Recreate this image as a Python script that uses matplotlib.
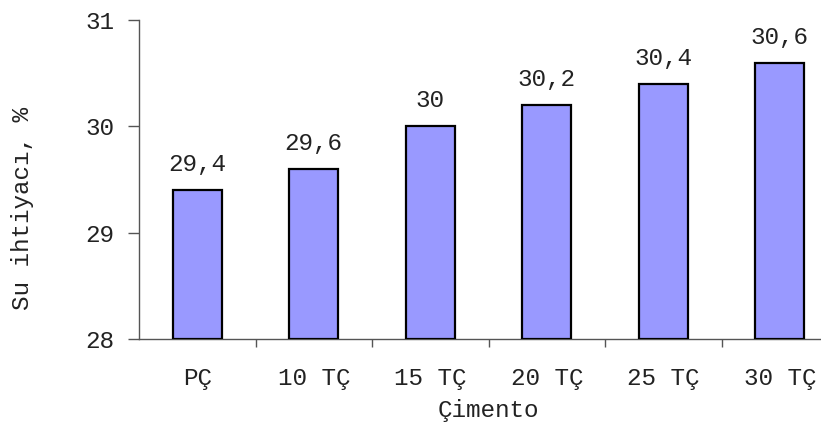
import matplotlib
matplotlib.use("Agg")
import matplotlib.pyplot as plt

# Su ihtiyacı verileri
cimento = ["PÇ", "10 TÇ", "15 TÇ", "20 TÇ", "25 TÇ", "30 TÇ"]
su_ihtiyaci = [29.4, 29.6, 30.0, 30.2, 30.4, 30.6]
etiketler = ["29,4", "29,6", "30", "30,2", "30,4", "30,6"]

plt.rcParams['font.family'] = ['Liberation Mono', 'DejaVu Sans Mono']
yazi_boy = 17.5
yazi_renk = '#222222'
eksen_renk = '#555555'

fig = plt.figure(figsize=(8.21, 4.28), dpi=100)
ax = fig.add_axes([139/821, 89/428, 699/821, 319/428])

x = list(range(len(cimento)))
ax.bar(x, [v - 28 for v in su_ihtiyaci], bottom=28, width=0.42,
       color='#9999FF', edgecolor='black', linewidth=1.6, zorder=3)

for xi, v, t in zip(x, su_ihtiyaci, etiketler):
    ax.annotate(t, (xi, v), xytext=(0, 10), textcoords='offset points',
                ha='center', va='bottom', color=yazi_renk, fontsize=yazi_boy)

ax.set_xlim(-0.5, len(cimento) - 0.5)
ax.set_ylim(28, 31)
ax.set_yticks([28, 29, 30, 31])
ax.set_xticks(x)
ax.set_xticklabels(cimento, color=yazi_renk, fontsize=yazi_boy)
ax.tick_params(axis='x', length=0, pad=20)
ax.set_xticks([i + 0.5 for i in x[:-1]], minor=True)
ax.tick_params(axis='x', which='minor', length=6, width=1, color=eksen_renk, direction='out')
ax.tick_params(axis='y', length=8, width=1, color=eksen_renk, pad=10,
               labelcolor=yazi_renk, labelsize=yazi_boy)

for s in ['top', 'right']:
    ax.spines[s].set_visible(False)
for s in ['left', 'bottom']:
    ax.spines[s].set_color(eksen_renk)
    ax.spines[s].set_linewidth(1)

fig.text(488/821, 1 - 410/428, "Çimento", ha='center', va='center',
         color=yazi_renk, fontsize=yazi_boy)
fig.text(22/821, 1 - 209/428, "Su ihtiyacı, %", ha='center', va='center', rotation=90,
         color=yazi_renk, fontsize=yazi_boy)

fig.savefig("out.png", dpi=100)
